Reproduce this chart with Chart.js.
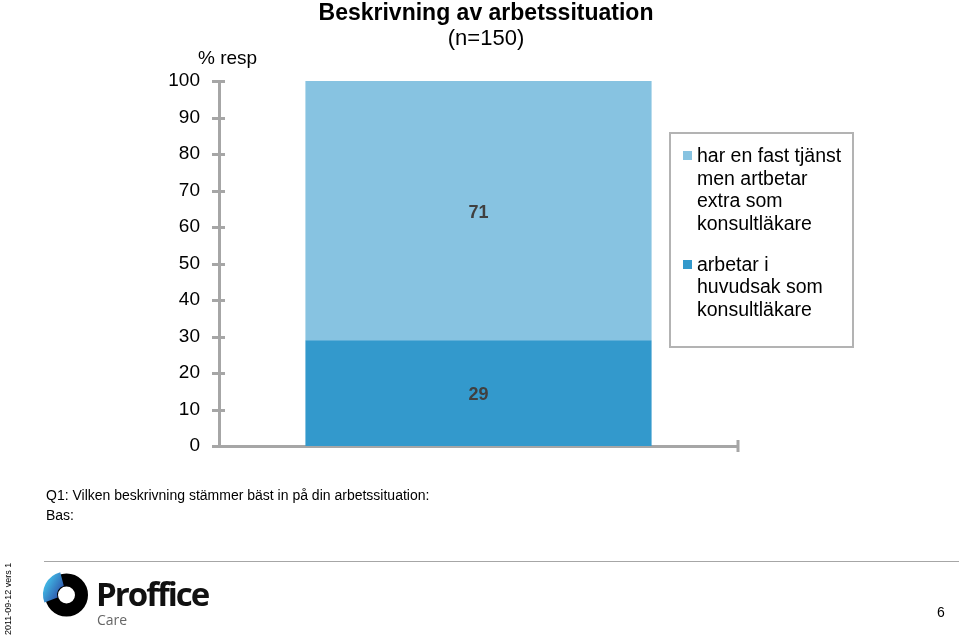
<!DOCTYPE html>
<html>
<head>
<meta charset="utf-8">
<script src="https://cdn.jsdelivr.net/npm/chart.js@4.4.0/dist/chart.umd.min.js"></script>
<style>
  body { margin: 0; width: 959px; height: 635px; overflow: hidden; background: #fff;
         font-family: "Liberation Sans", Arial, sans-serif; position: relative; }
  #chart { position: absolute; left: 0; top: 0; }
  .abs { position: absolute; white-space: nowrap; }
  #title { left: 286px; width: 400px; top: -1px; text-align: center; font-size: 22px; line-height: 26px; }
  #title b { display: block; font-size: 23px; }
  #legend { left: 669px; top: 132px; width: 181px; height: 212px; border: 2px solid #b3b3b3;
            font-size: 19.5px; line-height: 22.5px; }
  .item { position: absolute; left: 26px; }
  .sw { position: absolute; left: -14px; top: 7px; width: 9px; height: 9px; }
  #footer { left: 46px; top: 485px; font-size: 14px; line-height: 20px; }
  #rule { left: 44px; top: 561px; width: 915px; height: 0; border-top: 1px solid #a6a6a6; }
  #vers { left: -27px; top: 595px; font-size: 9px; transform: rotate(-90deg); transform-origin: center; width: 70px; text-align: center; }
  #page { left: 937px; top: 604px; font-size: 14px; }
  #brand { left: 96px; top: 571px; font-family: "Open Sans", sans-serif; font-weight: 700; font-size: 33px; letter-spacing: -2px; color: #111; }
  #care { left: 97px; top: 610px; font-family: "Open Sans", sans-serif; font-size: 14px; color: #666; }
</style>
</head>
<body>
<canvas id="chart" width="959" height="635"></canvas>
<div class="abs" id="title"><b>Beskrivning av arbetssituation</b>(n=150)</div>
<div class="abs" id="legend"></div>
<div class="abs" id="footer">Q1: Vilken beskrivning stämmer bäst in på din arbetssituation:<br>Bas:</div>
<div class="abs" id="rule"></div>
<div class="abs" id="vers">2011-09-12 vers 1</div>
<svg class="abs" style="left:0;top:560px" width="100" height="75">
  <defs>
    <linearGradient id="g" x1="0" y1="0" x2="1" y2="1">
      <stop offset="0" stop-color="#3fb0e0"/>
      <stop offset="1" stop-color="#2b3f9e"/>
    </linearGradient>
  </defs>
  <circle cx="66.5" cy="35" r="15" fill="none" stroke="#000" stroke-width="13"/>
  <path d="M51 40 A16 16 0 0 1 62 19" fill="none" stroke="url(#g)" stroke-width="14"/>
</svg>
<div class="abs" id="brand">Proffice</div>
<div class="abs" id="care">Care</div>
<div class="abs" id="page">6</div>
<script>
const categories = ['Arbetssituation'];
const seriesNames = [
  ['arbetar i', 'huvudsak som', 'konsultläkare'],
  ['har en fast tjänst', 'men artbetar', 'extra som', 'konsultläkare']
];
const huvudsakValues = [29];
const extraValues = [71];
const seriesColors = ['#3399cc', '#87c3e1'];
const yTicks = [0, 10, 20, 30, 40, 50, 60, 70, 80, 90, 100];

const axisGray = '#a6a6a6';
const font = '"Liberation Sans", Arial, sans-serif';

// tick marks crossing the axis, end tick on x, value labels, "% resp"
const extras = {
  id: 'extras',
  afterDatasetsDraw(chart) {
    const ctx = chart.ctx;
    const y = chart.scales.y;
    const ax = chart.chartArea.left;
    ctx.save();
    ctx.strokeStyle = axisGray;
    ctx.lineWidth = 3;
    yTicks.forEach(v => {
      const py = Math.round(y.getPixelForValue(v)) + 0.5;
      ctx.beginPath();
      ctx.moveTo(ax - 7, py);
      ctx.lineTo(ax + 6, py);
      ctx.stroke();
    });
    const bx = chart.chartArea.right;
    const by = y.getPixelForValue(0);
    ctx.beginPath();
    ctx.moveTo(bx, by - 6);
    ctx.lineTo(bx, by + 6);
    ctx.stroke();

    ctx.fillStyle = '#404040';
    ctx.font = 'bold 18px ' + font;
    ctx.textAlign = 'center';
    ctx.textBaseline = 'middle';
    chart.data.datasets.forEach((ds, i) => {
      chart.getDatasetMeta(i).data.forEach((el, j) => {
        ctx.fillText(ds.data[j], el.x, (el.y + el.base) / 2 + 2);
      });
    });

    ctx.fillStyle = '#000';
    ctx.font = '19px ' + font;
    ctx.textAlign = 'left';
    ctx.fillText('% resp', 198, 59);
    ctx.restore();
  }
};

const chart = new Chart(document.getElementById('chart'), {
  type: 'bar',
  data: {
    labels: categories,
    datasets: [
      { label: seriesNames[0].join(' '), data: huvudsakValues, backgroundColor: seriesColors[0] },
      { label: seriesNames[1].join(' '), data: extraValues, backgroundColor: seriesColors[1] }
    ]
  },
  options: {
    responsive: false,
    animation: false,
    devicePixelRatio: 1,
    datasets: { bar: { categoryPercentage: 1, barPercentage: 0.667 } },
    layout: { padding: { left: 0, top: 81, right: 221, bottom: 189 } },
    plugins: { legend: { display: false }, tooltip: { enabled: false } },
    scales: {
      x: {
        stacked: true,
        offset: true,
        grid: { display: false, drawTicks: false },
        border: { color: axisGray, width: 3 },
        ticks: { display: false },
        afterFit: s => { s.height = 0; }
      },
      y: {
        stacked: true,
        min: 0,
        max: 100,
        afterBuildTicks: s => { s.ticks = yTicks.map(v => ({ value: v })); },
        ticks: { padding: 19, color: '#000', font: { size: 19, family: font } },
        grid: { display: false, drawTicks: false },
        border: { color: axisGray, width: 3 },
        afterFit: s => { s.width = 219; }
      }
    }
  },
  plugins: [extras]
});

// legend, top series first
const legendBox = document.getElementById('legend');
let itemTop = 10;
[1, 0].forEach(i => {
  const item = document.createElement('div');
  item.className = 'item';
  item.style.top = itemTop + 'px';
  item.innerHTML = '<span class="sw" style="background:' + seriesColors[i] + '"></span>' + seriesNames[i].join('<br>');
  legendBox.appendChild(item);
  itemTop += seriesNames[i].length * 22.5 + 18.5;
});
</script>
</body>
</html>
